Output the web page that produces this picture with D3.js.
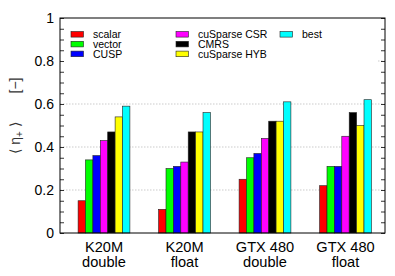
<!DOCTYPE html>
<html>
<head>
<meta charset="utf-8">
<script src="https://cdn.jsdelivr.net/npm/d3@7"></script>
<style>
  body { margin: 0; background: #fff; }
  text { font-family: "Liberation Sans", Arial, sans-serif; }
</style>
</head>
<body>
<script>
// chart data
const groups = ["K20M double", "K20M float", "GTX 480 double", "GTX 480 float"];
const methods = ["scalar", "vector", "CUSP", "cuSparse CSR", "CMRS", "cuSparse HYB", "best"];
const colors = ["#ff0000", "#00ff00", "#0000ff", "#ff00ff", "#000000", "#ffff00", "#00ffff"];
const scalar = [0.15, 0.11, 0.25, 0.22];
const vector = [0.34, 0.30, 0.35, 0.31];
const cusp = [0.36, 0.31, 0.37, 0.31];
const cusparseCsr = [0.43, 0.33, 0.44, 0.45];
const cmrs = [0.47, 0.47, 0.52, 0.56];
const cusparseHyb = [0.54, 0.47, 0.52, 0.50];
const best = [0.59, 0.56, 0.61, 0.62];
const yTicks = [0, 0.2, 0.4, 0.6, 0.8, 1];
const gridTicks = [0.2, 0.4, 0.6, 0.8];

const series = [scalar, vector, cusp, cusparseCsr, cmrs, cusparseHyb, best];

const width = 395, height = 276;
const mLeft = 60, mRight = 385, mTop = 18, mBottom = 233;

const svg = d3.select("body").append("svg")
  .attr("width", width)
  .attr("height", height);

const x0 = d3.scaleBand().domain(groups).range([63.75, 385.75]);
const x1 = d3.scaleBand().domain(methods).range([-25.9, 25.9]);
const y = d3.scaleLinear().domain([0, 1]).range([mBottom, mTop]);

// grid lines
svg.append("g")
  .selectAll("line")
  .data(gridTicks)
  .join("line")
  .attr("x1", mLeft).attr("x2", mRight)
  .attr("y1", d => y(d)).attr("y2", d => y(d))
  .attr("stroke", "#aaa")
  .attr("stroke-width", 0.6)
  .attr("stroke-dasharray", "1.5,1.5");

// bars
const table = groups.map((g, i) => methods.map((m, j) => ({ g, m, v: series[j][i], c: colors[j] })));
svg.append("g")
  .selectAll("g")
  .data(table)
  .join("g")
  .attr("transform", (d, i) => `translate(${x0(groups[i]) + x0.bandwidth() / 2},0)`)
  .selectAll("rect")
  .data(d => d)
  .join("rect")
  .attr("x", d => x1(d.m))
  .attr("width", x1.bandwidth())
  .attr("y", d => y(d.v))
  .attr("height", d => y(0) - y(d.v))
  .attr("fill", d => d.c)
  .attr("stroke", "#222")
  .attr("stroke-width", 0.6);

// legend
const leg = svg.append("g");
leg.append("rect")
  .attr("x", mLeft + 1).attr("y", 27)
  .attr("width", 316).attr("height", 36)
  .attr("fill", "#fff");
const legCols = [71, 176, 280];
const legItems = methods.map((m, j) => ({ m, c: colors[j], col: Math.floor(j / 3), row: j % 3 }));
const li = leg.selectAll("g")
  .data(legItems)
  .join("g")
  .attr("transform", d => `translate(${legCols[d.col]},${34.3 + d.row * 9.8})`);
li.append("rect")
  .attr("x", 0).attr("y", -2.8)
  .attr("width", 12.5).attr("height", 5.6)
  .attr("fill", d => d.c)
  .attr("stroke", "#222")
  .attr("stroke-width", 0.6);
li.append("text")
  .attr("x", 22)
  .attr("y", 3.7)
  .attr("font-size", 10.5)
  .text(d => d.m);

// axes frame and ticks
const tickVals = d3.range(0, 1.001, 0.05);
const yAxisL = d3.axisRight(y).tickValues(tickVals).tickSize(4).tickFormat("");
const yAxisR = d3.axisLeft(y).tickValues(tickVals).tickSize(4).tickFormat("");
svg.append("g").attr("transform", `translate(${mLeft},0)`).call(yAxisL)
  .call(g => g.select(".domain").remove())
  .call(g => g.selectAll(".tick line").attr("stroke", "#000").attr("stroke-width", 0.8));
svg.append("g").attr("transform", `translate(${mRight},0)`).call(yAxisR)
  .call(g => g.select(".domain").remove())
  .call(g => g.selectAll(".tick line").attr("stroke", "#000").attr("stroke-width", 0.8));

svg.append("rect")
  .attr("x", mLeft).attr("y", mTop)
  .attr("width", mRight - mLeft).attr("height", mBottom - mTop)
  .attr("fill", "none")
  .attr("stroke", "#000")
  .attr("stroke-width", 1);

// y tick labels
svg.append("g")
  .selectAll("text")
  .data(yTicks)
  .join("text")
  .attr("x", 54)
  .attr("y", d => y(d))
  .attr("dy", "0.36em")
  .attr("text-anchor", "end")
  .attr("font-size", 14)
  .text(d => d === 0 || d === 1 ? d : d.toFixed(1));

// x labels
const xl = svg.append("g")
  .selectAll("text")
  .data(groups)
  .join("text")
  .attr("text-anchor", "middle")
  .attr("font-size", 14.6)
  .attr("transform", d => `translate(${x0(d) + x0.bandwidth() / 2},0)`);
xl.append("tspan").attr("x", 0).attr("y", 251.5).text(d => d.replace(/ (double|float)$/, ""));
xl.append("tspan").attr("x", 0).attr("y", 267).text(d => d.match(/(double|float)$/)[0]);

// y axis title
const yt = svg.append("text")
  .attr("transform", "translate(20,138) rotate(-90)")
  .attr("text-anchor", "middle")
  .attr("font-size", 14)
  .attr("fill", "#333");
yt.append("tspan").text("\u27E8 \u03B7");
yt.append("tspan").attr("dy", 3).attr("font-size", 10).text("+");
yt.append("tspan").attr("dy", -3).text(" \u27E9");
svg.append("text")
  .attr("transform", "translate(20,85.5) rotate(-90)")
  .attr("text-anchor", "middle")
  .attr("font-size", 14)
  .attr("fill", "#333")
  .text("[\u2212]");
</script>
</body>
</html>
